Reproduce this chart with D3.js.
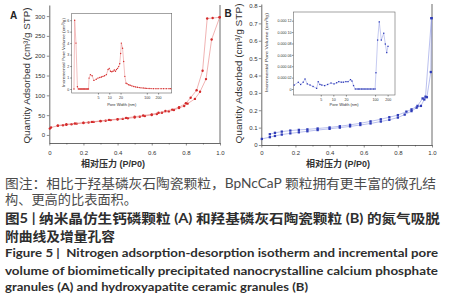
<!DOCTYPE html>
<html>
<head>
<meta charset="utf-8">
<style>
  body { margin: 0; background: #fff; }
  svg { display: block; }
</style>
</head>
<body>
<div id="container"></div>
<script src="https://cdn.jsdelivr.net/npm/d3@7/dist/d3.min.js"></script>
<script>

// ---- data ----
const pressureTicks = [0, 0.2, 0.4, 0.6, 0.8, 1.0];
const pressureMinor = [0.1, 0.3, 0.5, 0.7, 0.9];
const aYTicks = [0, 50, 100, 150, 200, 250, 300];
const bYTicks = [0, 0.1, 0.2, 0.3, 0.4, 0.5, 0.6, 0.7, 0.8];
const poreTicks = [5, 10, 20, 100, 200];
const insetATicks = [0, 1, 2, 3, 4, 5, 6];
const insetBTicks = [0, 0.00002, 0.00004, 0.00006, 0.00008, 0.0001, 0.00012];

// A: nanocrystalline calcium phosphate, isotherm
const aAdsP = [0.003, 0.01, 0.05, 0.08, 0.1, 0.13, 0.16, 0.2, 0.23, 0.26, 0.3, 0.33, 0.36, 0.4, 0.43, 0.46, 0.5, 0.53, 0.56, 0.6, 0.63, 0.66, 0.7, 0.73, 0.76, 0.79, 0.81, 0.853, 0.883, 0.918, 0.951, 0.998];
const aAdsQ = [16, 19, 23, 24.5, 25.5, 27, 28.5, 30, 31.5, 33, 34.5, 36, 37.5, 39, 40.5, 42, 44, 46, 48, 50.5, 53, 56, 59.5, 63, 68, 73, 79, 91, 109, 141, 241, 297];
const aDesP = [0.998, 0.957, 0.925, 0.898, 0.863, 0.828, 0.8, 0.76, 0.72, 0.68, 0.64, 0.6, 0.55, 0.5, 0.45, 0.4, 0.35, 0.3, 0.25, 0.2, 0.15, 0.1, 0.05];
const aDesQ = [297, 295, 294, 162, 113, 94, 80, 70, 64, 60.5, 56, 52, 49, 46, 43, 40, 38, 35.5, 33, 31, 29, 27, 24];

// A: incremental pore volume
const aPoreW = [1.15, 1.2, 1.3, 1.42, 1.5, 1.6, 1.7, 1.8, 1.9, 2.0, 2.1, 2.2, 2.35, 2.5, 2.65, 2.8, 2.9, 3.15, 3.5, 3.9, 4.5, 5.0, 5.6, 6.2, 6.8, 7.5, 8.4, 9.3, 10.0, 10.8, 11.7, 12.6, 13.6, 14.6, 15.6, 16.7, 17.8, 19.0, 20.1, 21.0, 22.6, 24.2, 26.0, 28.0, 30, 33, 36, 40, 45, 50, 56, 63, 70, 80, 90, 100, 115, 130, 150, 175, 200, 240, 280, 330, 390, 430];
const aPoreV = [0, 6.0, 4.0, 0.2, 0, 0, 0, 0, 0, 0, 0, 0, 0, 0, 0, 0, 0.95, 1.25, 1.15, 0.75, 0.85, 0.95, 1.0, 1.05, 1.1, 1.15, 1.25, 1.7, 1.8, 1.55, 1.5, 1.55, 1.65, 1.55, 1.7, 1.8, 1.95, 2.2, 3.1, 4.0, 3.55, 2.4, 1.1, 0.5, 0.45, 0.37, 0.32, 0.27, 0.22, 0.18, 0.15, 0.12, 0.1, 0.08, 0.06, 0.05, 0.04, 0.035, 0.03, 0.03, 0.03, 0.03, 0.03, 0.03, 0.03, 0.03];

// B: hydroxyapatite ceramic, isotherm
const bAdsP = [0.003, 0.05, 0.08, 0.12, 0.17, 0.22, 0.27, 0.33, 0.4, 0.46, 0.52, 0.58, 0.64, 0.7, 0.75, 0.8, 0.84, 0.88, 0.91, 0.935, 0.955, 0.97, 0.993, 0.997];
const bAdsQ = [0.035, 0.045, 0.052, 0.06, 0.067, 0.073, 0.079, 0.086, 0.093, 0.1, 0.107, 0.115, 0.124, 0.135, 0.145, 0.158, 0.175, 0.195, 0.215, 0.225, 0.262, 0.275, 0.42, 0.73];
const bDesP = [0.997, 0.962, 0.945, 0.915, 0.88, 0.85, 0.8, 0.75, 0.7, 0.64, 0.58, 0.52, 0.46, 0.4, 0.33, 0.27, 0.22, 0.17, 0.12, 0.08, 0.05];
const bDesQ = [0.73, 0.278, 0.268, 0.225, 0.205, 0.192, 0.172, 0.16, 0.148, 0.136, 0.125, 0.116, 0.108, 0.101, 0.095, 0.09, 0.087, 0.083, 0.077, 0.07, 0.062];

// B: incremental pore volume
const bPoreW = [1.16, 1.45, 1.65, 1.9, 2.1, 2.38, 2.77, 3.27, 3.98, 4.35, 4.78, 5.3, 6.2, 7.3, 8.8, 10.4, 12, 13.5, 15.5, 17.4, 20, 22.5, 25.8, 28, 30.5, 33.6, 37, 40, 43, 47, 51, 55, 60, 65, 71, 77, 84, 92, 100, 105, 115, 126, 141, 161, 176, 190, 204];
const bPoreV = [0.000007, 0.0000118, 0.000008, 0.000012, 0.0000176, 0.000009, 0.000007, 0.0000045, 0.0000012, 0.0000128, 0.000008, 0.000007, 0.000006, 0.000008, 0.0000105, 0.000009, 0.000011, 0.000013, 0.000012, 0.000012, 0.000013, 0.000013, 0.0000165, 0.000014, 0.000006, 0, 0, 0, 0, 0, 0, 0, 0, 0, 0, 0, 0, 0, 0, 0.0000286, 0.000086, 0.000118, 0.000086, 0.000098, 0.000079, 0.000064, 0.000075];

const noteLines = ['图注：相比于羟基磷灰石陶瓷颗粒，BpNcCaP 颗粒拥有更丰富的微孔结', '构、更高的比表面积。'];
const titleZh = ['图5 | 纳米晶仿生钙磷颗粒 (A) 和羟基磷灰石陶瓷颗粒 (B) 的氮气吸脱', '附曲线及增量孔容'];
const titleEn = ['Figure 5 |  Nitrogen adsorption-desorption isotherm and incremental pore', 'volume of biomimetically precipitated nanocrystalline calcium phosphate', 'granules (A) and hydroxyapatite ceramic granules (B)'];

// ---- drawing ----
const width = 452, height = 300;
const svg = d3.select('#container').append('svg')
    .attr('width', width)
    .attr('height', height)
    .style('font-family', '"Liberation Sans", Arial, sans-serif');

svg.append('rect').attr('width', width).attr('height', height).attr('fill', '#fff');

function styleAxis(sel, fs) {
  sel.attr('font-size', null).attr('font-family', null);
  sel.select('.domain').attr('stroke', '#444').attr('stroke-width', 0.8);
  sel.selectAll('.tick line').attr('stroke', '#444').attr('stroke-width', 0.6);
  sel.selectAll('.tick text').attr('font-size', fs).attr('fill', '#333');
}

function drawSeries(g, x, y, xs, ys, c) {
  const pts = xs.map((v, i) => [x(v), y(ys[i])]);
  g.append('path')
      .attr('d', d3.line()(pts))
      .attr('fill', 'none')
      .attr('stroke', c.line)
      .attr('stroke-width', c.lw);
  if (c.shape === 'square') {
    g.selectAll(null).data(pts).enter().append('rect')
        .attr('x', d => d[0] - c.size / 2)
        .attr('y', d => d[1] - c.size / 2)
        .attr('width', c.size).attr('height', c.size)
        .attr('fill', c.fill);
  } else {
    g.selectAll(null).data(pts).enter().append('circle')
        .attr('cx', d => d[0]).attr('cy', d => d[1])
        .attr('r', c.size / 2)
        .attr('fill', c.fill);
  }
}

function drawMain(p) {
  const x = d3.scaleLinear().domain([0, 1]).range([p.x0, p.x1]);
  const y = d3.scaleLinear().domain(p.yDomain).range([p.yBottom, p.yTop]);
  const g = svg.append('g');
  const fs = 6;

  g.append('g')
      .attr('transform', `translate(0,${p.yBottom})`)
      .call(d3.axisBottom(x).tickValues(pressureTicks)
          .tickFormat(d => d === 0 ? '0' : d3.format('.1f')(d))
          .tickSize(2.5).tickSizeOuter(0)
          .tickPadding(154.7 - p.yBottom - 2.5 - 0.71 * fs))
      .call(s => styleAxis(s, fs));
  g.append('g')
      .attr('transform', `translate(0,${p.yBottom})`)
      .call(d3.axisBottom(x).tickValues(pressureMinor).tickFormat('').tickSize(1.5).tickSizeOuter(0))
      .call(s => styleAxis(s, fs))
      .call(s => s.select('.domain').remove());

  g.append('g')
      .attr('transform', `translate(${p.x0},0)`)
      .call(d3.axisLeft(y).tickValues(p.yTicks).tickFormat(p.yFormat)
          .tickSize(2.5).tickSizeOuter(0).tickPadding(p.yPad))
      .call(s => styleAxis(s, fs));

  // right frame line
  g.append('line')
      .attr('x1', p.x1).attr('x2', p.x1)
      .attr('y1', p.yTop).attr('y2', p.yBottom)
      .attr('stroke', '#444').attr('stroke-width', 0.8);

  drawSeries(g, x, y, p.adsP, p.adsQ, p.style);
  drawSeries(g, x, y, p.desP, p.desQ, p.style);

  g.append('text')
      .attr('transform', `translate(${p.yTitleX},${p.yTitleY}) rotate(-90)`)
      .attr('text-anchor', 'middle')
      .attr('font-size', 9.5)
      .attr('fill', '#333')
      .attr('textLength', p.yTitleLen)
      .attr('lengthAdjust', 'spacingAndGlyphs')
      .text('Quantity Adsorbed (cm³/g STP)');

  g.append('text')
      .attr('x', (p.x0 + p.x1) / 2 + p.xTitleShift).attr('y', 166.8)
      .attr('text-anchor', 'middle')
      .attr('font-size', 9)
      .attr('font-weight', 'bold')
      .attr('fill', '#333')
      .style('font-family', '"Liberation Sans", "Noto Sans CJK SC", sans-serif')
      .text('相对压力 (P/P0)');

  g.append('text')
      .attr('x', p.labelX).attr('y', p.labelY)
      .attr('font-size', 10)
      .attr('font-weight', 'bold')
      .attr('fill', '#222')
      .text(p.label);
}

function drawInset(o) {
  const x = d3.scaleLog().domain(o.wDomain).range([o.x0, o.x1]);
  const y = d3.scaleLinear().domain(o.vDomain).range([o.y1, o.y0]);
  const g = svg.append('g');
  const fs = 3.6;

  g.append('rect')
      .attr('x', o.x0).attr('y', o.y0)
      .attr('width', o.x1 - o.x0).attr('height', o.y1 - o.y0)
      .attr('fill', '#fff').attr('stroke', '#666').attr('stroke-width', 0.6);

  g.append('g')
      .attr('transform', `translate(0,${o.y1})`)
      .call(d3.axisBottom(x).tickValues(poreTicks).tickFormat(d3.format('d'))
          .tickSize(1.5).tickSizeOuter(0).tickPadding(2))
      .call(s => styleAxis(s, fs))
      .call(s => s.select('.domain').remove());

  g.append('g')
      .attr('transform', `translate(${o.x0},0)`)
      .call(d3.axisLeft(y).tickValues(o.vTicks).tickFormat(o.vFormat)
          .tickSize(1.5).tickSizeOuter(0).tickPadding(o.vPad))
      .call(s => styleAxis(s, fs))
      .call(s => s.select('.domain').remove());

  drawSeries(g, x, y, o.w, o.v, o.style);

  g.append('text')
      .attr('x', (o.x0 + o.x1) / 2).attr('y', 105.7)
      .attr('text-anchor', 'middle')
      .attr('font-size', 4)
      .attr('fill', '#333')
      .text('Pore Width (nm)');

  g.append('text')
      .attr('transform', `translate(${o.titleX},${o.titleY}) rotate(-90)`)
      .attr('text-anchor', 'middle')
      .attr('font-size', 4.3)
      .attr('fill', '#333')
      .attr('textLength', o.titleLen)
      .attr('lengthAdjust', 'spacingAndGlyphs')
      .text('Incremental Pore Volume (cm³/g)');
}

const redStyle = { line: '#e68080', lw: 0.6, fill: '#d42a2a', size: 2.4, shape: 'circle' };
const blueStyle = { line: '#8c96e2', lw: 0.6, fill: '#2f3cb8', size: 2.3, shape: 'square' };

drawMain({
  x0: 49.3, x1: 220, yBottom: 143, yTop: 5, yDomain: [-20.3, 328],
  yTicks: aYTicks, yFormat: d3.format('d'), yPad: 1.8,
  adsP: aAdsP, adsQ: aAdsQ, desP: aDesP, desQ: aDesQ, style: redStyle,
  yTitleX: 30, yTitleY: 75.5, yTitleLen: 136, xTitleShift: -21.6,
  label: 'A', labelX: 10, labelY: 18.5
});

drawMain({
  x0: 261.3, x1: 432, yBottom: 145, yTop: 4, yDomain: [0, 0.8115],
  yTicks: bYTicks, yFormat: d => d === 0 ? '0' : d3.format('.1f')(d), yPad: 1.2,
  adsP: bAdsP, adsQ: bAdsQ, desP: bDesP, desQ: bDesQ, style: blueStyle,
  yTitleX: 241.7, yTitleY: 73.5, yTitleLen: 140, xTitleShift: -8.6,
  label: 'B', labelX: 224.5, labelY: 17
});

drawInset({
  x0: 71.7, x1: 171.7, y0: 13.3, y1: 93, wDomain: [1.0, 460], vDomain: [-0.35, 6.6],
  vTicks: insetATicks, vFormat: d3.format('d'), vPad: 1,
  w: aPoreW, v: aPoreV,
  style: { line: '#e68080', lw: 0.5, fill: '#d42a2a', size: 1.4, shape: 'circle' },
  titleX: 64.8, titleY: 52.5, titleLen: 69
});

drawInset({
  x0: 293.3, x1: 395, y0: 12, y1: 95, wDomain: [1.1, 300], vDomain: [-0.0000105, 0.0001353],
  vTicks: insetBTicks, vFormat: d => d === 0 ? '0' : d3.format('.5f')(d).replace(/^(0\.\d{3})/, '$1 '), vPad: 0.4,
  w: bPoreW, v: bPoreV,
  style: { line: '#8c96e2', lw: 0.5, fill: '#2f3cb8', size: 1.3, shape: 'square' },
  titleX: 267.8, titleY: 52.5, titleLen: 79
});

// ---- caption ----
const cap = svg.append('g').style('font-family', 'Lato, "Noto Sans CJK SC", sans-serif');
const capLines = [
  { t: noteLines[0], y: 188.3, len: 431, fs: 13, w: 'normal', c: '#4a4a4a' },
  { t: noteLines[1], y: 204.3, len: 132, fs: 13, w: 'normal', c: '#4a4a4a' },
  { t: titleZh[0], y: 223.3, len: 435, fs: 13, w: 'bold', c: '#2e2e2e' },
  { t: titleZh[1], y: 241, len: 110, fs: 13, w: 'bold', c: '#2e2e2e' },
  { t: titleEn[0], y: 256.8, len: 433, fs: 12, w: 'bold', c: '#2e2e2e' },
  { t: titleEn[1], y: 274.6, len: 433, fs: 12, w: 'bold', c: '#2e2e2e' },
  { t: titleEn[2], y: 291.2, len: 303, fs: 12, w: 'bold', c: '#2e2e2e' }
];
cap.selectAll('text').data(capLines).enter().append('text')
    .attr('x', 5)
    .attr('y', d => d.y)
    .attr('font-size', d => d.fs)
    .attr('font-weight', d => d.w)
    .attr('fill', d => d.c)
    .attr('textLength', d => d.len)
    .attr('lengthAdjust', 'spacingAndGlyphs')
    .style('white-space', 'pre')
    .text(d => d.t);

</script>
</body>
</html>
